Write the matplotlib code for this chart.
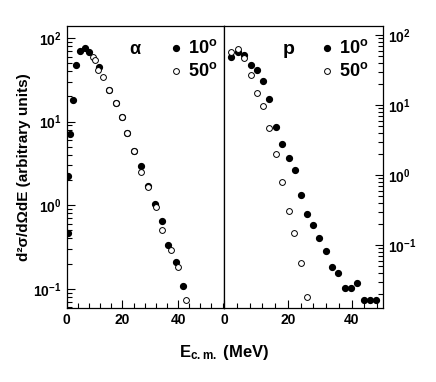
import numpy as np
import matplotlib.pyplot as plt
from matplotlib.ticker import LogLocator, MultipleLocator, NullFormatter

plt.rcParams['font.family'] = ['Liberation Sans', 'DejaVu Sans']
plt.rcParams['font.weight'] = 'bold'
plt.rcParams['mathtext.fontset'] = 'custom'
plt.rcParams['mathtext.rm'] = 'Liberation Sans:bold'
plt.rcParams['mathtext.bf'] = 'Liberation Sans:bold'
plt.rcParams['mathtext.it'] = 'Liberation Sans:bold'

# alpha spectra (left panel)
e_a10 = [0.4, 0.6, 1.3, 2.3, 3.5, 4.9, 6.5, 8.0, 11.6, 15.2, 17.6, 19.7, 21.8, 24.1,
         26.6, 29.1, 31.7, 34.1, 36.4, 39.1, 41.6]
y_a10 = [0.46, 2.26, 7.1, 18.2, 47.6, 70, 76.6, 67.5, 45.4, 23.9, 16.6, 11.5, 7.4, 4.5,
         2.96, 1.72, 1.04, 0.64, 0.337, 0.212, 0.107]
e_a50 = [9.5, 10.1, 11.3, 13.1, 15.2, 17.6, 19.7, 21.8, 24.1, 26.6, 29.1, 31.9, 34.4,
         37.3, 40.0, 43.0]
y_a50 = [60, 54.6, 41.5, 34.5, 23.9, 16.6, 11.2, 7.3, 4.5, 2.48, 1.63, 0.96, 0.51,
         0.288, 0.182, 0.073]

# proton spectra (right panel)
e_p10 = [2.3, 4.4, 6.4, 8.3, 10.2, 12.3, 14.2, 16.2, 18.2, 20.2, 22.1, 24.1, 26.1, 28.0,
         29.9, 31.9, 33.9, 35.8, 37.8, 39.8, 41.7, 43.7, 45.7, 47.7]
y_p10 = [48, 56.6, 51.8, 37.3, 31.6, 22.2, 12.3, 4.85, 2.75, 1.73, 1.18, 0.513, 0.277,
         0.193, 0.125, 0.082, 0.048, 0.0398, 0.024, 0.024, 0.0284, 0.0164, 0.0164, 0.0164]
e_p50 = [2.3, 4.4, 6.2, 8.3, 10.2, 12.3, 14.2, 16.2, 18.2, 20.2, 22.0, 24.0, 26.0]
y_p50 = [56.6, 63, 46.4, 26.8, 14.7, 9.7, 4.74, 2.0, 0.80, 0.309, 0.147, 0.055, 0.0179]

fig = plt.figure(figsize=(4.36, 3.82), dpi=100)
ax1 = fig.add_axes([66.7 / 436, 1 - 308 / 382, 157.3 / 436, 282 / 382])
ax2 = fig.add_axes([224 / 436, 1 - 308 / 382, 158.7 / 436, 282 / 382])

ms = 4.2
for ax, e10, y10, e50, y50 in [(ax1, e_a10, y_a10, e_a50, y_a50),
                               (ax2, e_p10, y_p10, e_p50, y_p50)]:
    ax.plot(e10, y10, 'o', color='black', ms=ms, mec='black', zorder=3)
    ax.plot(e50, y50, 'o', mfc='white', mec='black', mew=0.7, ms=ms, zorder=4)
    ax.set_yscale('log')
    ax.xaxis.set_major_locator(MultipleLocator(20))
    ax.xaxis.set_minor_locator(MultipleLocator(4))
    ax.yaxis.set_major_locator(LogLocator(base=10, numticks=10))
    ax.yaxis.set_minor_locator(LogLocator(base=10, subs=np.arange(2, 10), numticks=20))
    ax.yaxis.set_minor_formatter(NullFormatter())
    ax.tick_params(which='both', direction='in', top=False, labelsize=10)
    ax.tick_params(which='major', length=6, width=0.8)
    ax.tick_params(which='minor', length=3.5, width=0.8)
    for s in ax.spines.values():
        s.set_linewidth(0.9)

ax1.set_xlim(0, 56.5)
ax1.set_ylim(0.059, 139)
ax1.tick_params(axis='y', which='both', left=True, right=False)

ax2.set_xlim(0, 49.7)
ax2.set_ylim(0.0126, 134.5)
ax2.tick_params(axis='y', which='both', left=False, right=True, labelleft=False,
                labelright=True)

ax1.set_ylabel('d²σ/dΩdE (arbitrary units)', fontsize=11, fontweight='bold', labelpad=2)
fig.text(224 / 436, 1 - 352 / 382, r'E$_{\mathrm{c.m.}}$ (MeV)', fontsize=12,
         fontweight='bold', ha='center', va='center')

# panel labels and legend text
fig.text(135 / 436, 1 - 50 / 382, 'α', fontsize=13, ha='center', va='center')
fig.text(289 / 436, 1 - 50 / 382, 'p', fontsize=14, fontweight='bold', ha='center',
         va='center')
for x0 in (176, 327):
    fig.lines.append(plt.Line2D([x0 / 436], [1 - 48 / 382], marker='o', color='black',
                                ms=ms, transform=fig.transFigure, figure=fig))
    fig.lines.append(plt.Line2D([x0 / 436], [1 - 71 / 382], marker='o', mfc='white',
                                mec='black', mew=0.7, ms=ms, transform=fig.transFigure,
                                figure=fig))
    fig.text((x0 + 12) / 436, 1 - 48 / 382, r'10$^{\mathrm{o}}$', fontsize=13,
             fontweight='bold', va='center')
    fig.text((x0 + 12) / 436, 1 - 71 / 382, r'50$^{\mathrm{o}}$', fontsize=13,
             fontweight='bold', va='center')

fig.savefig('out.png', dpi=100)
